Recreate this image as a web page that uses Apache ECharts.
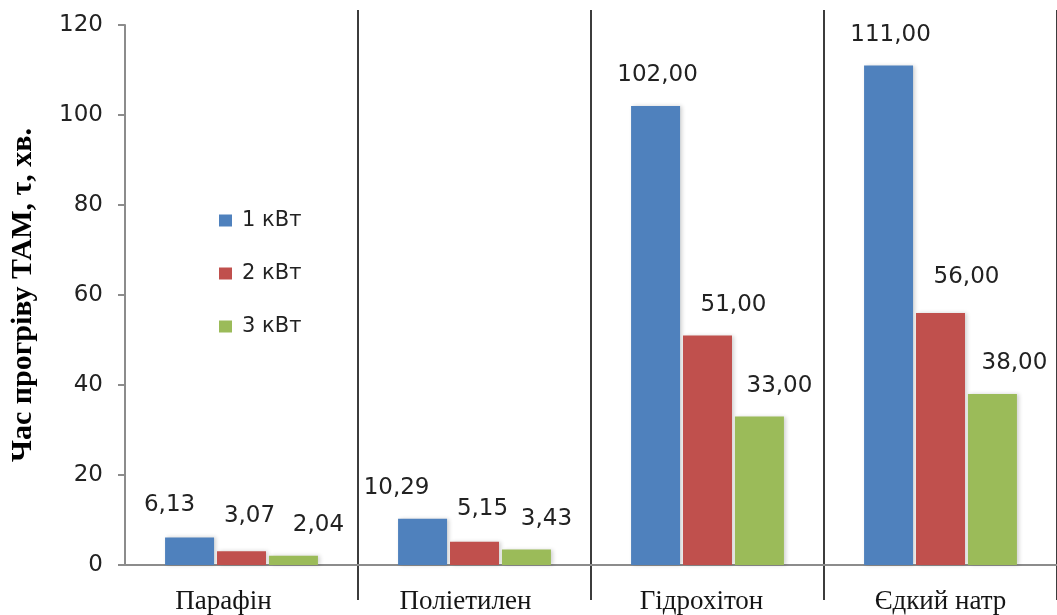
<!DOCTYPE html>
<html>
<head>
<meta charset="utf-8">
<script src="https://cdn.jsdelivr.net/npm/echarts@6/dist/echarts.min.js"></script>
<style>
  html, body { margin: 0; padding: 0; background: #ffffff; }
  #chart { width: 1057px; height: 615px; }
</style>
</head>
<body>
<div id="chart"></div>
<script>
// Heating time of the TAM by material and heater power
const categories = ['Парафін', 'Поліетилен', 'Гідрохітон', 'Єдкий натр'];
const seriesNames = ['1 кВт', '2 кВт', '3 кВт'];
const power1 = [6.13, 10.29, 102.00, 111.00];
const power2 = [3.07, 5.15, 51.00, 56.00];
const power3 = [2.04, 3.43, 33.00, 38.00];
const yTicks = { min: 0, max: 120, interval: 20 };

const colors = ['#4f81bd', '#c0504d', '#9bbb59'];

// label nudges [dx, dy] for each bar, per series
const labelNudge1 = [[-20, -2], [-26, 0], [2, 0], [2, 0]];
const labelNudge2 = [[8, -5], [8, -2], [26, 0], [26, -5]];
const labelNudge3 = [[25, 0], [20, 0], [20, 0], [22, 0]];
// horizontal shift of each category name (negative = left)
const categoryShift = [-18, -9, -6, 0];

const numFont = 'DejaVu Sans';
const serifFont = 'Liberation Serif';

function buildData(values, nudges) {
  return values.map((v, i) => ({ value: v, label: { offset: nudges[i] } }));
}

function barSeries(name, values, nudges, color) {
  return {
    name: name,
    type: 'bar',
    xAxisIndex: 0,
    yAxisIndex: 0,
    barWidth: 49,
    barGap: '6%',
    itemStyle: {
      color: color,
      shadowColor: 'rgba(0,0,0,0.18)',
      shadowBlur: 4,
      shadowOffsetX: 2,
      shadowOffsetY: 0
    },
    label: {
      show: true,
      position: 'top',
      distance: 19,
      fontFamily: numFont,
      fontSize: 23,
      color: '#222222',
      formatter: p => p.value.toFixed(2).replace('.', ',')
    },
    data: buildData(values, nudges)
  };
}

// rich styles that move each category name sideways
const categoryRich = {};
categoryShift.forEach((s, i) => {
  categoryRich['c' + i] = {
    fontFamily: serifFont,
    fontSize: 27,
    color: '#151515',
    padding: s < 0 ? [0, -2 * s, 0, 0] : [0, 0, 0, 2 * s]
  };
});

const chart = echarts.init(document.getElementById('chart'), null, { renderer: 'canvas' });

chart.setOption({
  animation: false,
  backgroundColor: '#ffffff',
  color: colors,
  grid: [
    { left: 125, right: -1, top: 25, bottom: 50, containLabel: false },
    { left: 125, right: -1, top: 10, bottom: 15, containLabel: false }
  ],
  legend: {
    orient: 'vertical',
    left: 214,
    top: 205,
    itemWidth: 13,
    itemHeight: 12,
    itemGap: 32,
    icon: 'rect',
    data: seriesNames,
    textStyle: {
      fontFamily: numFont,
      fontSize: 21,
      color: '#222222',
      padding: [0, 0, 0, 5]
    }
  },
  xAxis: [
    {
      gridIndex: 0,
      type: 'category',
      data: categories,
      boundaryGap: true,
      axisLine: { show: true, lineStyle: { color: '#8c8c8c', width: 2 } },
      axisTick: { show: false },
      splitLine: { show: false },
      axisLabel: {
        interval: 0,
        hideOverlap: false,
        margin: 23,
        fontFamily: serifFont,
        fontSize: 27,
        color: '#151515',
        formatter: (value, index) => '{c' + index + '|' + value + '}',
        rich: categoryRich
      }
    },
    {
      // separators between material groups
      gridIndex: 1,
      type: 'category',
      data: categories,
      boundaryGap: true,
      axisLine: { show: false },
      axisTick: { show: false },
      axisLabel: { show: false },
      splitLine: {
        show: true,
        interval: (index) => index > 0,
        lineStyle: { color: '#3c3c3c', width: 2 }
      }
    }
  ],
  yAxis: [
    {
      gridIndex: 0,
      type: 'value',
      min: yTicks.min,
      max: yTicks.max,
      interval: yTicks.interval,
      name: 'Час прогріву ТАМ, τ, хв.',
      nameLocation: 'middle',
      nameGap: 87,
      nameTextStyle: {
        fontFamily: serifFont,
        fontSize: 30,
        fontWeight: 'bold',
        color: '#000000'
      },
      axisLine: { show: true, lineStyle: { color: '#8c8c8c', width: 2 } },
      axisTick: { show: true, inside: false, length: 7, lineStyle: { color: '#8c8c8c', width: 2 } },
      splitLine: { show: false },
      axisLabel: {
        margin: 22,
        fontFamily: numFont,
        fontSize: 23,
        color: '#222222'
      }
    },
    {
      gridIndex: 1,
      type: 'value',
      show: false,
      min: 0,
      max: 1
    }
  ],
  series: [
    barSeries(seriesNames[0], power1, labelNudge1, colors[0]),
    barSeries(seriesNames[1], power2, labelNudge2, colors[1]),
    barSeries(seriesNames[2], power3, labelNudge3, colors[2])
  ]
});
</script>
</body>
</html>
